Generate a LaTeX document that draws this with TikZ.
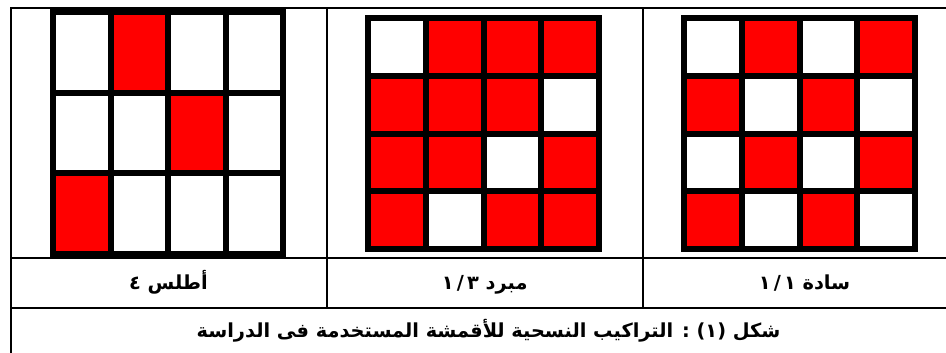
\documentclass[tikz,border=0pt]{standalone}
\usepackage{fontspec}
\usepackage{tikz}
\usetikzlibrary{positioning}
\TeXXeTstate=1
\newfontfamily\arabicfont[Script=Arabic]{DejaVu Sans}
\definecolor{weavered}{RGB}{255,0,0}

\begin{document}
\begin{tikzpicture}[x=0.75pt, y=-0.75pt,
    tabline/.style={line width=1.5pt},
    weaveline/.style={line width=4.5pt, line join=miter},
    lbl/.style={font=\arabicfont\bfseries\fontsize{14.5}{17}\selectfont, inner sep=0pt, anchor=base}]
\useasboundingbox (0,0) rectangle (946,353);
\clip (0,0) rectangle (946,353);
% table frame
\draw[tabline] (11,8.5) rectangle (966,360);
\draw[tabline] (11,258) -- (966,258);
\draw[tabline] (11,308) -- (966,308);
\draw[tabline] (326.5,8.5) -- (326.5,308);
\draw[tabline] (643,8.5) -- (643,308);
% atlas 4 (4 x 3)
\begin{scope}[shift={(53,12)}, x=43.125pt, y=-60.5pt]
  \foreach \c/\r in {1/0,2/1,0/2}
    \fill[weavered] (\c,\r) rectangle ++(1,1);
  \foreach \c in {1,2,3}
    \draw[weaveline] (\c,0) -- (\c,3);
  \foreach \r in {1,2}
    \draw[weaveline] (0,\r) -- (4,\r);
  \draw[weaveline] (0,0) rectangle (4,3);
\end{scope}
% twill 3/1 (4 x 4)
\begin{scope}[shift={(368,18)}, x=43.3125pt, y=-43.3125pt]
  \foreach \c/\r in {1/0,2/0,3/0, 0/1,1/1,2/1, 0/2,1/2,3/2, 0/3,2/3,3/3}
    \fill[weavered] (\c,\r) rectangle ++(1,1);
  \foreach \i in {1,2,3} {
    \draw[weaveline] (\i,0) -- (\i,4);
    \draw[weaveline] (0,\i) -- (4,\i);
  }
  \draw[weaveline] (0,0) rectangle (4,4);
\end{scope}
% plain 1/1 (4 x 4)
\begin{scope}[shift={(684,18)}, x=43.3125pt, y=-43.3125pt]
  \foreach \c/\r in {1/0,3/0, 0/1,2/1, 1/2,3/2, 0/3,2/3}
    \fill[weavered] (\c,\r) rectangle ++(1,1);
  \foreach \i in {1,2,3} {
    \draw[weaveline] (\i,0) -- (\i,4);
    \draw[weaveline] (0,\i) -- (4,\i);
  }
  \draw[weaveline] (0,0) rectangle (4,4);
\end{scope}
% labels
\node[lbl] (atlas) at (168.5,289) {\beginR أطلس ٤\endR};
\node[lbl] (twill) at (484.75,289) {\beginR مبرد \beginL١\,/\,٣\endL\endR};
\node[lbl] (plain) at (804.5,289) {\beginR سادة \beginL١\,/\,١\endL\endR};
\node[lbl] (caption) at (488.5,337) {\beginR شكل (١) : التراكيب النسحية للأقمشة المستخدمة فى الدراسة\endR};
\end{tikzpicture}
\end{document}
